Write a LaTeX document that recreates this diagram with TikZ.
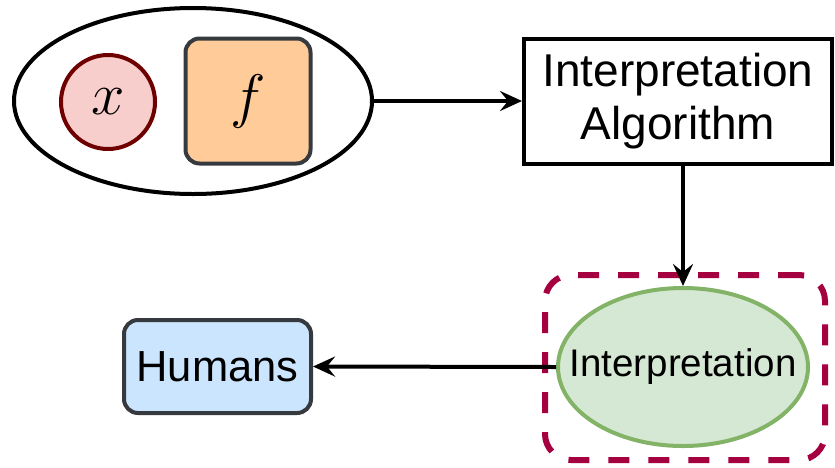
\documentclass[tikz,border=0pt]{standalone}
\usepackage{fix-cm}
\usepackage{fontspec}
\setmainfont{Liberation Sans}
\usepackage{tikz}
\usetikzlibrary{shapes.geometric,arrows.meta}

\definecolor{inred}{HTML}{F8CECC}
\definecolor{indarkred}{HTML}{6F0000}
\definecolor{fnorange}{HTML}{FFCC99}
\definecolor{boxgray}{HTML}{36393D}
\definecolor{hmblue}{HTML}{CCE5FF}
\definecolor{itgreen}{HTML}{D5E8D4}
\definecolor{itgreendark}{HTML}{82B366}
\definecolor{grpred}{HTML}{A50040}

\begin{document}
\begin{tikzpicture}[
    x=1pt, y=-1pt,
    box/.style={rectangle, draw, line width=4pt, align=center, inner sep=0pt},
    rbox/.style={box, rounded corners=14pt, draw=boxgray},
    arrow/.style={-{Stealth[length=22pt, width=20pt, inset=8pt]}, line width=4pt},
    bigtext/.style={font=\fontsize{46}{53}\selectfont},
    mathtext/.style={font=\fontsize{60}{62}\selectfont}
]
\useasboundingbox (0,0) rectangle (835,467);

% Inputs: sample and model
\node[ellipse, draw, line width=4pt, minimum width=358pt, minimum height=186pt] (inputs) at (193,101) {};
\node[circle, draw=indarkred, fill=inred, line width=4pt, minimum size=94pt, inner sep=0pt, mathtext] (sample) at (108,102) {$x$};
\node[rbox, fill=fnorange, minimum width=125pt, minimum height=125pt, mathtext] (model) at (248,101) {$f$};

% Interpretation Algorithm
\node[box, minimum width=308pt, minimum height=125pt, bigtext] (algo) at (678,101) {Interpretation\\Algorithm};

% Interpretation inside dashed group
\node[rectangle, draw=grpred, line width=6pt, rounded corners=26pt, dash pattern=on 21pt off 19pt,
      minimum width=280pt, minimum height=185pt] (group) at (685,367.5) {};
\node[ellipse, draw=itgreendark, fill=itgreen, line width=4pt, minimum width=250pt, minimum height=158pt,
      label={[font=\fontsize{38.5}{40}\selectfont]center:Interpretation}] (interp) at (683,367) {};

% Humans
\node[rbox, fill=hmblue, minimum width=187pt, minimum height=93pt,
      font=\fontsize{43.5}{46}\selectfont] (humans) at (217.5,366.5) {Humans};

% Arrows
\draw[arrow] (inputs.east) -- (algo.west);
\draw[arrow] (algo.south -| interp.north) -- (interp.north);
\draw[arrow] (interp.west) -- (humans.east);

\end{tikzpicture}
\end{document}
